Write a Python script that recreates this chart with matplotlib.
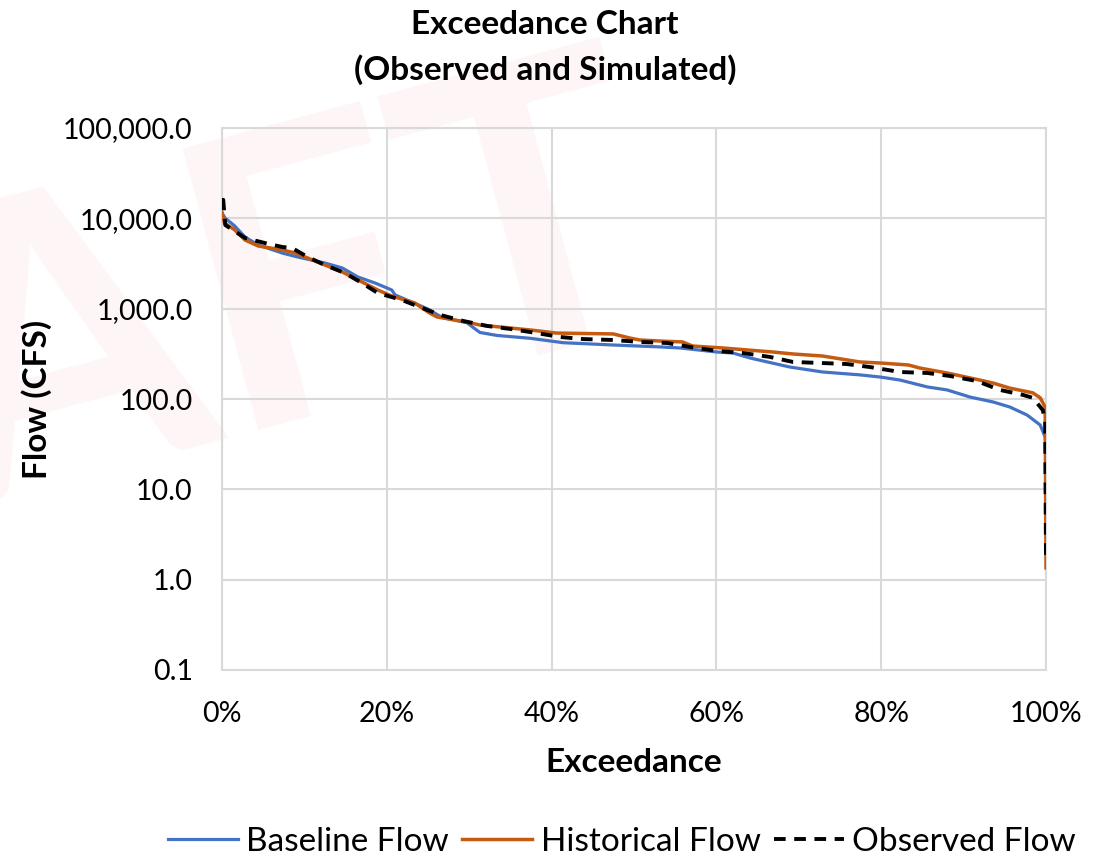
import numpy as np
import matplotlib
matplotlib.use("Agg")
import matplotlib.pyplot as plt
from matplotlib.ticker import FixedLocator, FixedFormatter, NullLocator
from matplotlib.textpath import TextPath
from matplotlib.font_manager import FontProperties

plt.rcParams['font.family'] = ['Lato', 'DejaVu Sans']

# ---- data (exceedance %, flow cfs) ----
base_pct = [0, 0.36, 1.5, 2.8, 4.4, 7.3, 9.2, 12.5, 14.6, 16.5, 18.6, 20.6, 21.0,
            25.0, 26.7, 29.7, 31.3, 33.4, 37.4, 41.4, 47.5, 53.2, 55.6, 60.1, 62.0,
            64.1, 68.9, 72.9, 77.4, 79.9, 82.3, 85.6, 88.0, 90.8, 93.6, 95.6, 97.7,
            99.3, 99.9, 100]
base_flow = [11500, 10090, 8300, 6200, 5070, 4130, 3730, 3200, 2820, 2240, 1920, 1610, 1420,
             990, 800, 700, 545, 505, 470, 420, 396, 377, 367, 331, 323,
             284, 226, 199, 185, 175, 162, 136, 126, 105, 92.6, 81.6, 66.5,
             51.5, 37.9, 30]

hist_pct = [0, 0.3, 1.5, 2.8, 4.4, 7.3, 8.9, 12.5, 14.6, 16.5, 18.9, 20.6, 23.4,
            25.2, 26.1, 29.7, 31.3, 37.4, 40.6, 47.5, 49.5, 50.7, 53.2, 55.9, 57.1,
            60.8, 66.9, 69.3, 72.9, 77.4, 80.0, 83.3, 84.7, 88.0, 90.8, 93.6, 95.6,
            98.4, 99.3, 99.9, 100]
hist_flow = [11500, 8870, 7500, 5750, 4940, 4470, 4130, 3040, 2550, 2080, 1610, 1380, 1155,
             895, 809, 711, 659, 581, 537, 525, 473, 450, 438, 428, 386,
             367, 331, 315, 299, 257, 250, 238, 220, 194, 171, 150, 132,
             117, 103, 81, 1.35]

obs_pct = [0, 0.15, 0.4, 2.8, 5.2, 7.3, 8.5, 10.4, 12.5, 14.9, 17.0, 18.9, 21.8,
           24.3, 26.5, 29.3, 32.2, 35.0, 38.2, 41.0, 43.8, 47.5, 50.7, 54.0, 56.8,
           60.1, 63.2, 66.5, 69.3, 72.9, 75.8, 78.6, 82.3, 85.6, 88.3, 91.6, 94.4,
           97.2, 98.4, 99.6, 99.9, 100]
obs_flow = [16000, 16000, 8430, 6060, 5330, 4820, 4700, 3730, 3040, 2480, 1920, 1490, 1250,
            1017, 851, 730, 643, 596, 537, 486, 461, 450, 428, 417, 377,
            340, 323, 292, 257, 250, 244, 226, 199, 194, 180, 158, 126,
            111, 103, 75.6, 58.5, 1.57]

y_ticks = [0.1, 1, 10, 100, 1000, 10000, 100000]
y_tick_labels = ["0.1", "1.0", "10.0", "100.0", "1,000.0", "10,000.0", "100,000.0"]
x_ticks = [0, 20, 40, 60, 80, 100]
x_tick_labels = ["0%", "20%", "40%", "60%", "80%", "100%"]

series_names = ["Baseline Flow", "Historical Flow", "Observed Flow"]
watermark = "DRAFT"

# ---- figure ----
W, H = 1112, 860
fig = plt.figure(figsize=(W / 100, H / 100), dpi=100)
fig.patch.set_facecolor("white")

# faint DRAFT watermark: place so that the "F" sits where it does in the reference
wm_size_pt = 290
wm_prop = FontProperties(family="Lato", weight="bold")
adv = TextPath((0, 0), "DRA", prop=wm_prop, size=wm_size_pt * 100 / 72).get_extents().x1
ang = np.deg2rad(15)
f_bl = (229, 430)  # image px (y down) of the F's lower-left corner
ax0 = f_bl[0] - adv * np.cos(ang)
ay0 = f_bl[1] + adv * np.sin(ang)
fig.text(ax0 / W, 1 - ay0 / H, watermark, fontsize=wm_size_pt, fontproperties=None,
         fontweight="bold", family="Lato", color="#fef6f6", rotation=15,
         ha="left", va="baseline", rotation_mode="anchor", zorder=-10)

ax = fig.add_axes([222 / W, 1 - 670 / H, (1046 - 222) / W, (670 - 128) / H])
ax.patch.set_alpha(0)

grid_c = "#d9d9d9"
ax.plot(base_pct, base_flow, color="#4472C4", lw=2.3, label=series_names[0], zorder=3)
ax.plot(hist_pct, hist_flow, color="#C55A11", lw=2.5, label=series_names[1], zorder=4)
ax.plot(obs_pct, obs_flow, color="black", lw=2.8, ls=(0, (3, 2.2)),
        label=series_names[2], zorder=5)

ax.set_yscale("log")
ax.set_ylim(0.1, 100000)
ax.set_xlim(0, 100)
ax.yaxis.set_major_locator(FixedLocator(y_ticks))
ax.yaxis.set_major_formatter(FixedFormatter(y_tick_labels))
ax.yaxis.set_minor_locator(NullLocator())
ax.xaxis.set_major_locator(FixedLocator(x_ticks))
ax.xaxis.set_major_formatter(FixedFormatter(x_tick_labels))

ax.grid(True, which="major", color=grid_c, lw=1.5, zorder=1)
ax.set_axisbelow(True)
for s in ax.spines.values():
    s.set_color(grid_c)
    s.set_linewidth(1.5)

ax.tick_params(axis="both", length=0, labelsize=20.5, labelcolor="black")
ax.tick_params(axis="y", pad=21)
ax.tick_params(axis="x", pad=22)

ax.set_xlabel("Exceedance", fontsize=24, fontweight="bold")
ax.xaxis.set_label_coords(0.5, (670 - 763) / (670 - 128))
ax.xaxis.label.set_va("center")
ax.set_ylabel("Flow (CFS)", fontsize=24, fontweight="bold")
ax.yaxis.set_label_coords((37 - 222) / (1046 - 222), 0.5)
ax.yaxis.label.set_va("center")

fig.text(545 / W, 1 - 24 / H, "Exceedance Chart", fontsize=24, fontweight="bold",
         ha="center", va="center")
fig.text(545 / W, 1 - 70 / H, "(Observed and Simulated)", fontsize=24, fontweight="bold",
         ha="center", va="center")

leg = fig.legend(loc="center", bbox_to_anchor=(622 / W, 1 - 842 / H), ncol=3,
                 frameon=False, fontsize=24, handlelength=2.1, handletextpad=0.25,
                 columnspacing=0.4)

fig.savefig("out.png", dpi=100, facecolor="white")
